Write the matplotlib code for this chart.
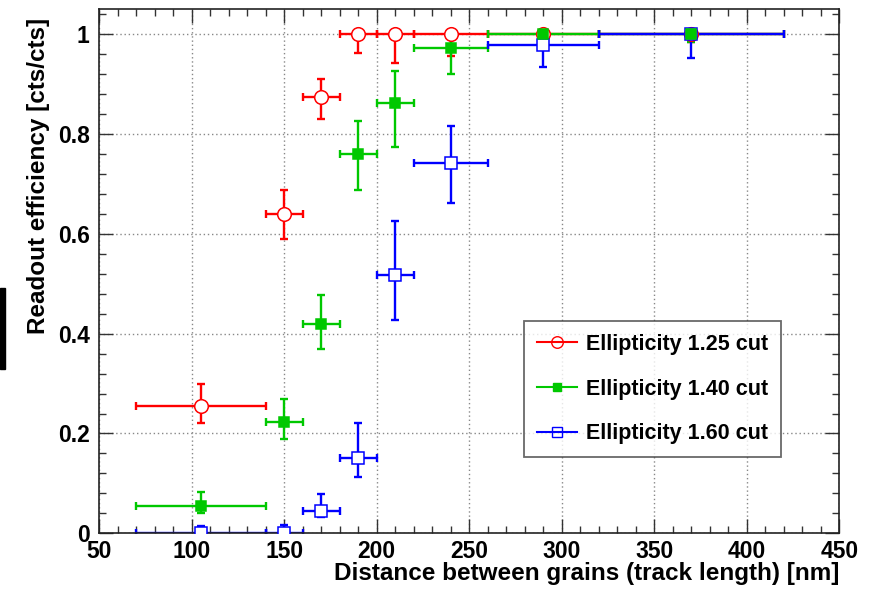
import matplotlib.pyplot as plt
import numpy as np
from matplotlib.patches import Rectangle
from matplotlib.ticker import MultipleLocator

plt.rcParams["font.family"] = ["Liberation Sans", "DejaVu Sans"]
plt.rcParams["font.weight"] = "bold"

# track-length bins (nm)
x_center = [105, 150, 170, 190, 210, 240, 290, 370]
x_low = [70, 140, 160, 180, 200, 220, 260, 320]
x_high = [140, 160, 180, 200, 220, 260, 320, 420]

# readout efficiency per ellipticity cut
eff_125 = [0.255, 0.639, 0.875, 1.0, 1.0, 1.0, 1.0, 1.0]
eff_125_low = [0.222, 0.590, 0.831, 0.962, 0.942, 0.957, 0.975, 0.985]
eff_125_high = [0.300, 0.688, 0.910, 1.0, 1.0, 1.0, 1.0, 1.0]

eff_140 = [0.055, 0.223, 0.420, 0.761, 0.863, 0.973, 1.0, 1.0]
eff_140_low = [0.040, 0.189, 0.370, 0.688, 0.775, 0.920, 0.975, 0.985]
eff_140_high = [0.082, 0.270, 0.478, 0.827, 0.927, 0.998, 1.0, 1.0]

eff_160 = [0.0, 0.0, 0.045, 0.150, 0.517, 0.743, 0.979, 1.0]
eff_160_low = [0.0, 0.0, 0.033, 0.112, 0.427, 0.662, 0.934, 0.952]
eff_160_high = [0.014, 0.017, 0.079, 0.222, 0.625, 0.817, 1.0, 1.0]

labels = ["Ellipticity 1.25 cut", "Ellipticity 1.40 cut", "Ellipticity 1.60 cut"]

series = [
    (eff_125, eff_125_low, eff_125_high, "#ff0000", "o", "white", 9.8, 3),
    (eff_140, eff_140_low, eff_140_high, "#00c800", "s", "#00c800", 7.4, 5),
    (eff_160, eff_160_low, eff_160_high, "#0000ff", "s", "white", 8.2, 4),
]

fig = plt.figure(figsize=(8.71, 5.89), dpi=100)
ax = fig.add_axes([99.3 / 871, 1 - 533.3 / 589, (839.3 - 99.3) / 871, (533.3 - 9.3) / 589])

xc = np.array(x_center)
xerr = [xc - np.array(x_low), np.array(x_high) - xc]

handles = []
for y, ylo, yhi, color, marker, face, ms, z in series:
    y = np.array(y)
    yerr = [y - np.array(ylo), np.array(yhi) - y]
    ax.errorbar(xc, y, xerr=xerr, yerr=yerr, fmt="none", ecolor=color,
                elinewidth=1.7, capsize=2.8, capthick=1.7, zorder=2)
    ax.plot(xc, y, linestyle="none", marker=marker, markersize=ms,
            markerfacecolor=face, markeredgecolor=color, markeredgewidth=1.1, zorder=z)
    h, = ax.plot([], [], color=color, lw=1.5, marker=marker, markersize=ms * 0.85,
                 markerfacecolor="none" if face == "white" else face,
                 markeredgecolor=color, markeredgewidth=1.0)
    handles.append(h)

ax.set_xlim(50, 450)
ax.set_ylim(0, 1.05)
ax.xaxis.set_major_locator(MultipleLocator(50))
ax.xaxis.set_minor_locator(MultipleLocator(10))
ax.yaxis.set_minor_locator(MultipleLocator(0.04))
ax.set_yticks([0, 0.2, 0.4, 0.6, 0.8, 1.0])
ax.set_yticklabels(["0", "0.2", "0.4", "0.6", "0.8", "1"])

ax.tick_params(which="both", direction="in", top=True, right=True, width=1.0,
               color="#333333", labelsize=16.5)
ax.tick_params(axis="y", pad=7)
ax.tick_params(axis="x", pad=5)
ax.tick_params(which="major", length=10)
ax.tick_params(which="minor", length=5)
for lab in ax.get_xticklabels() + ax.get_yticklabels():
    lab.set_fontweight("bold")

ax.grid(True, which="major", linestyle=(0, (1, 2)), color="#888888", linewidth=1.0)
for s in ax.spines.values():
    s.set_linewidth(1.2)
    s.set_color("#222222")

ax.set_xlabel("Distance between grains (track length) [nm]", fontsize=17.5,
              fontweight="bold", loc="right", labelpad=-1)
ax.set_ylabel("Readout efficiency [cts/cts]", fontsize=17.5, fontweight="bold",
              loc="top")
ax.yaxis.set_label_coords(-0.0666, 0.983)

leg = ax.legend(handles, labels, loc="upper left",
                bbox_to_anchor=((524 - 99.3) / 740, 1 - (321 - 9.3) / 524),
                prop={"size": 15.5, "weight": "bold"}, frameon=True, fancybox=False,
                handlelength=1.85, labelspacing=1.1, borderpad=0.6, borderaxespad=0,
                handletextpad=0.45)
leg.get_frame().set_edgecolor("#444444")
leg.get_frame().set_linewidth(1.3)

# dark strip at the left edge
fig.patches.append(Rectangle((0, 1 - 369 / 589), 5 / 871, 81 / 589,
                             transform=fig.transFigure, color="black"))

fig.savefig("out.png", dpi=100)
